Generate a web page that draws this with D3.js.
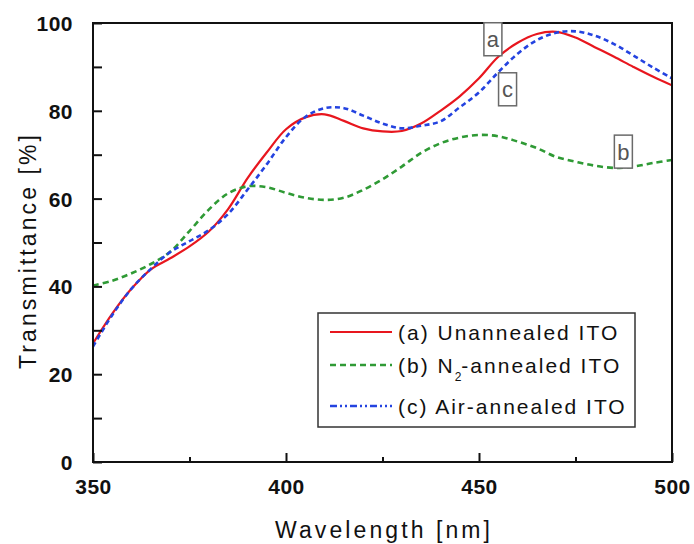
<!DOCTYPE html>
<html>
<head>
<meta charset="utf-8">
<script src="https://cdn.jsdelivr.net/npm/d3@7"></script>
<style>
  body { margin: 0; background: #fff; }
  svg { display: block; font-family: "Liberation Sans", Arial, sans-serif; }
</style>
</head>
<body>
<div id="chart"></div>
<script>
// wavelength samples (nm)
var wavelength = [350, 355, 360, 365, 370, 375, 380, 385, 390, 395, 400, 405, 410, 415, 420,
  425, 430, 435, 440, 445, 450, 455, 460, 465, 470, 475, 480, 485, 490, 495, 500];

// (a) unannealed
var unannealed = [27, 33.8, 39.5, 43.9, 46.4, 49.1, 52.5, 57.6, 64.6, 70.5, 75.8, 78.5, 79.2, 77.7, 76,
  75.3, 75.4, 77.1, 80, 83.3, 87.4, 92.3, 95.5, 97.5, 98, 96.7, 94.5, 92.3, 90, 87.8, 85.8];

// (b) N2 annealed
var n2Annealed = [40.2, 41.3, 43, 45.1, 47.9, 52.6, 57.5, 61.2, 62.8, 62.6, 61.3, 60.2, 59.7, 60.2, 62,
  64.4, 67.3, 70.4, 72.6, 73.9, 74.5, 74.2, 73, 71.5, 69.5, 68.4, 67.5, 67, 67.3, 68.1, 68.8];

// (c) air annealed
var airAnnealed = [26.3, 33.5, 39.5, 44, 47.8, 50.3, 52.8, 56.5, 62, 67.8, 74, 78.6, 80.6, 80.6, 78.9,
  77.1, 76, 76.6, 77.6, 80.8, 84.2, 88.8, 93, 96.1, 97.8, 98.1, 97.1, 95.2, 92.6, 89.9, 87.4];

var xMajor = [350, 400, 450, 500];
var xMinor = [375, 425, 475];
var yMajor = [0, 20, 40, 60, 80, 100];
var yMinor = [10, 30, 50, 70, 90];

// legend text: before subscript, subscript, after subscript
var legendParts = [
  ['(a) Unannealed ITO', '', ''],
  ['(b) N', '2', '-annealed ITO'],
  ['(c) Air-annealed ITO', '', '']
];

// boxed letters next to the curves (data units)
var curveLabels = ['a', 'c', 'b'];
var labelLambda = [453.6, 457.4, 487.4];
var labelT = [96.3, 84.9, 70.7];

var W = 694, H = 544;
var margin = {top: 23, right: 22, bottom: 82, left: 93};
var width = W - margin.left - margin.right,
    height = H - margin.top - margin.bottom;

var svg = d3.select('#chart').append('svg')
    .attr('width', W)
    .attr('height', H);

var g = svg.append('g')
    .attr('transform', 'translate(' + margin.left + ',' + margin.top + ')');

var x = d3.scaleLinear().domain([350, 500]).range([0, width]);
var y = d3.scaleLinear().domain([0, 100]).range([height, 0]);

var series = [
  {values: unannealed, color: '#e8161e', width: 2.2, dash: null, legendDash: null},
  {values: n2Annealed, color: '#2f9a35', width: 2.6, dash: '6,4', legendDash: '6,4'},
  {values: airAnnealed, color: '#2443e0', width: 2.6, dash: '5,3.5', legendDash: '7,3,2,3,2,3'}
];

var line = d3.line()
  .x(d => x(d[0]))
  .y(d => y(d[1]))
  .curve(d3.curveCatmullRom.alpha(0.5));

g.append('defs').append('clipPath').attr('id', 'clip')
  .append('rect').attr('width', width).attr('height', height);

g.append('g').attr('clip-path', 'url(#clip)')
  .selectAll('path')
  .data(series)
  .enter().append('path')
    .attr('d', s => line(wavelength.map((w, i) => [w, s.values[i]])))
    .attr('fill', 'none')
    .attr('stroke', s => s.color)
    .attr('stroke-width', s => s.width)
    .attr('stroke-dasharray', s => s.dash);

// axes, ticks pointing inward
var xAxis = d3.axisBottom(x).tickValues(xMajor).tickSize(-9).tickPadding(17).tickFormat(d3.format('d'));
var xAxisMinor = d3.axisBottom(x).tickValues(xMinor).tickSize(-5).tickFormat('');
var yAxis = d3.axisLeft(y).tickValues(yMajor).tickSize(-9).tickPadding(20).tickFormat(d3.format('d'));
var yAxisMinor = d3.axisLeft(y).tickValues(yMinor).tickSize(-9).tickFormat('');

function styleAxis(sel) {
  sel.select('.domain').remove();
  sel.selectAll('line').attr('stroke', '#111').attr('stroke-width', 2);
  sel.selectAll('text')
    .attr('fill', '#111')
    .style('font-size', '21px')
    .style('font-weight', 'bold')
    .style('letter-spacing', '0.5px');
}

g.append('g').attr('transform', 'translate(0,' + height + ')').call(xAxis).call(styleAxis);
g.append('g').attr('transform', 'translate(0,' + height + ')').call(xAxisMinor).call(styleAxis);
g.append('g').call(yAxis).call(styleAxis)
  .selectAll('text').attr('dy', '0.36em');
g.append('g').call(yAxisMinor).call(styleAxis);

// frame
g.append('rect')
  .attr('width', width).attr('height', height)
  .attr('fill', 'none').attr('stroke', '#111').attr('stroke-width', 2);

// axis titles
svg.append('text')
  .attr('x', margin.left + width / 2)
  .attr('y', 538)
  .attr('text-anchor', 'middle')
  .attr('textLength', 215)
  .attr('lengthAdjust', 'spacing')
  .style('font-size', '23px')
  .attr('fill', '#111')
  .text('Wavelength [nm]');

svg.append('text')
  .attr('transform', 'translate(36,252) rotate(-90)')
  .attr('text-anchor', 'middle')
  .attr('textLength', 234)
  .attr('lengthAdjust', 'spacing')
  .style('font-size', '23px')
  .attr('fill', '#111')
  .text('Transmittance [%]');

// curve labels in small boxes
var lab = g.selectAll('.curve-label')
  .data(curveLabels)
  .enter().append('g')
    .attr('class', 'curve-label')
    .attr('transform', (d, i) => 'translate(' + x(labelLambda[i]) + ',' + y(labelT[i]) + ')');

lab.append('rect')
  .attr('x', -9).attr('y', -16.5)
  .attr('width', 18).attr('height', 33)
  .attr('fill', '#fff')
  .attr('stroke', '#6a6a6a')
  .attr('stroke-width', 1.5);

lab.append('text')
  .attr('text-anchor', 'middle')
  .attr('dy', '0.36em')
  .attr('fill', '#555')
  .style('font-size', '22px')
  .text(d => d);

// legend
var legend = svg.append('g').attr('transform', 'translate(318,313)');
legend.append('rect')
  .attr('width', 317).attr('height', 114)
  .attr('fill', '#fff').attr('stroke', '#333').attr('stroke-width', 1.5);

var rowY = [19, 52, 93];
var rows = legend.selectAll('.row')
  .data(series)
  .enter().append('g')
    .attr('class', 'row')
    .attr('transform', (d, i) => 'translate(0,' + rowY[i] + ')');

rows.append('line')
  .attr('x1', 12).attr('x2', 74)
  .attr('stroke', d => d.color)
  .attr('stroke-width', d => d.width)
  .attr('stroke-dasharray', d => d.legendDash);

rows.each(function(d, i) {
  var parts = legendParts[i];
  var t = d3.select(this).append('text')
    .attr('x', 80)
    .attr('dy', '0.36em')
    .attr('fill', '#111')
    .style('font-size', '21px')
    .style('letter-spacing', '2px');
  t.append('tspan').text(parts[0]);
  if (parts[1]) {
    t.append('tspan').attr('dy', 8).style('font-size', '12px').style('letter-spacing', '0px').text(parts[1]);
    t.append('tspan').attr('dy', -8).text(parts[2]);
  }
});
</script>
</body>
</html>
